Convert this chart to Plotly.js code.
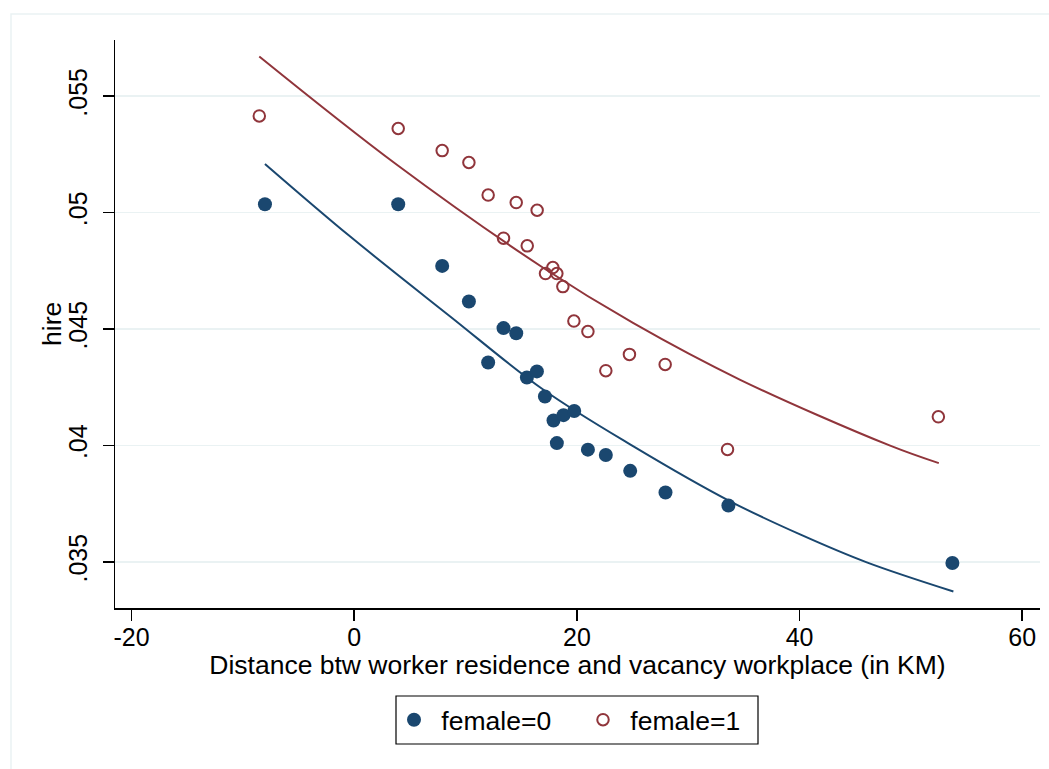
<!DOCTYPE html>
<html>
<head>
<meta charset="utf-8">
<script src="https://cdn.plot.ly/plotly-3.0.1.min.js"></script>
<style>
html,body{margin:0;padding:0;background:#fff;}
#chart{width:1049px;height:769px;}
</style>
</head>
<body>
<div id="chart"></div>
<script>
// Binned scatter: female = 0
const male_x = [-8.02, 3.95, 7.90, 10.30, 13.41, 14.55, 12.03, 15.51, 16.41, 17.13, 17.90, 18.80, 19.76, 18.20, 20.99, 22.60, 24.79, 27.96, 33.61, 53.73];
const male_y = [0.05036, 0.05036, 0.04771, 0.04618, 0.04504, 0.04482, 0.04356, 0.04292, 0.04318, 0.04210, 0.04107, 0.04130, 0.04148, 0.04010, 0.03982, 0.03959, 0.03891, 0.03798, 0.03742, 0.03495];
// Binned scatter: female = 1
const female_x = [-8.53, 3.95, 7.90, 10.30, 12.03, 14.55, 16.43, 13.41, 15.54, 17.18, 17.84, 18.20, 18.74, 19.73, 20.99, 22.60, 24.72, 27.93, 33.53, 52.47];
const female_y = [0.05415, 0.05361, 0.05266, 0.05215, 0.05075, 0.05043, 0.05010, 0.04890, 0.04857, 0.04738, 0.04764, 0.04738, 0.04682, 0.04534, 0.04489, 0.04321, 0.04391, 0.04348, 0.03983, 0.04123];
// Quadratic fit lines
const male_fit_x = [-8.02, -0.36, 8.62, 17.0, 25.08, 33.77, 40.05, 46.04, 53.82];
const male_fit_y = [0.05209, 0.04897, 0.04554, 0.04239, 0.03996, 0.03760, 0.03618, 0.03498, 0.03373];
const female_fit_x = [-8.53, 3.83, 17.0, 25.08, 34.67, 48.14, 52.51];
const female_fit_y = [0.05670, 0.05205, 0.04762, 0.04525, 0.04282, 0.03999, 0.03924];

const xTicks = [-20, 0, 20, 40, 60];
const xTickText = ['-20', '0', '20', '40', '60'];
const yTicks = [0.035, 0.04, 0.045, 0.05, 0.055];
const yTickText = ['.035', '.04', '.045', '.05', '.055'];

const NAVY = '#1a476f', MAROON = '#90353b', GRID = '#eaf2f3';
const FONT = 'Liberation Sans, Arial, Helvetica, sans-serif';

// plot area geometry (px) used to place legend/frame in paper coords
const L = 115, R = 9, T = 40, B = 161, W = 1049, H = 769;
const PW = W - L - R, PH = H - T - B;
const px2x = p => (p - L) / PW;
const py2y = p => (H - B - p) / PH;

const traces = [
  {x: male_fit_x, y: male_fit_y, type: 'scatter', mode: 'lines', line: {color: NAVY, width: 2, shape: 'spline', smoothing: 1}, showlegend: false, hoverinfo: 'skip'},
  {x: female_fit_x, y: female_fit_y, type: 'scatter', mode: 'lines', line: {color: MAROON, width: 2, shape: 'spline', smoothing: 1}, showlegend: false, hoverinfo: 'skip'},
  {x: male_x, y: male_y, type: 'scatter', mode: 'markers', name: '\u00a0female=0', legend: 'legend',
   marker: {color: NAVY, size: 14, symbol: 'circle', line: {width: 0}}},
  {x: female_x, y: female_y, type: 'scatter', mode: 'markers', name: '\u00a0female=1', legend: 'legend2',
   marker: {color: MAROON, size: 11.5, symbol: 'circle-open', line: {color: MAROON, width: 2}}}
];

const legendBase = {
  orientation: 'h', xanchor: 'left', yanchor: 'middle', y: py2y(720),
  borderwidth: 0, bgcolor: 'rgba(0,0,0,0)',
  font: {size: 26.5, family: FONT, color: '#000'},
  itemsizing: 'trace'
};

const layout = {
  width: W, height: H,
  paper_bgcolor: '#fff', plot_bgcolor: '#fff',
  margin: {l: L, r: R, t: T, b: B, pad: 0},
  font: {family: FONT, color: '#000', size: 25},
  showlegend: true,
  xaxis: {
    range: [-21.49, 61.6], tickvals: xTicks, ticktext: xTickText,
    showgrid: false, zeroline: false, showline: true, linecolor: '#000', linewidth: 1.5,
    ticks: 'outside', ticklen: 11, tickwidth: 1.5, tickcolor: '#000',
    ticklabelstandoff: -5,
    tickfont: {size: 25, family: FONT, color: '#000'},
    title: {text: 'Distance btw worker residence and vacancy workplace (in KM)', font: {size: 26.5, family: FONT, color: '#000'}, standoff: 0}
  },
  yaxis: {
    range: [0.03302, 0.05741], tickvals: yTicks, ticktext: yTickText, tickangle: -90,
    showgrid: true, gridcolor: GRID, gridwidth: 1.5, zeroline: false,
    showline: true, linecolor: '#000', linewidth: 1.5,
    ticks: 'outside', ticklen: 11, tickwidth: 1.5, tickcolor: '#000',
    ticklabelstandoff: 6,
    tickfont: {size: 25, family: FONT, color: '#000'}
  },
  legend: Object.assign({}, legendBase, {x: px2x(394)}),
  legend2: Object.assign({}, legendBase, {x: px2x(583)}),
  annotations: [
    {text: 'hire', xref: 'paper', yref: 'paper', x: px2x(52), y: py2y(324),
     xanchor: 'center', yanchor: 'middle', textangle: -90, showarrow: false,
     font: {size: 26.5, family: FONT, color: '#000'}}
  ],
  shapes: [
    {type: 'rect', xref: 'paper', yref: 'paper', x0: px2x(11), x1: px2x(1060), y0: py2y(780), y1: py2y(14),
     line: {color: GRID, width: 1.5}, fillcolor: 'rgba(0,0,0,0)', layer: 'below'},
    {type: 'rect', xref: 'paper', yref: 'paper', x0: px2x(396), x1: px2x(758), y0: py2y(744), y1: py2y(696),
     line: {color: '#000', width: 1.2}, fillcolor: '#fff', layer: 'below'}
  ]
};

Plotly.newPlot('chart', traces, layout, {displayModeBar: false, staticPlot: true});
</script>
</body>
</html>
